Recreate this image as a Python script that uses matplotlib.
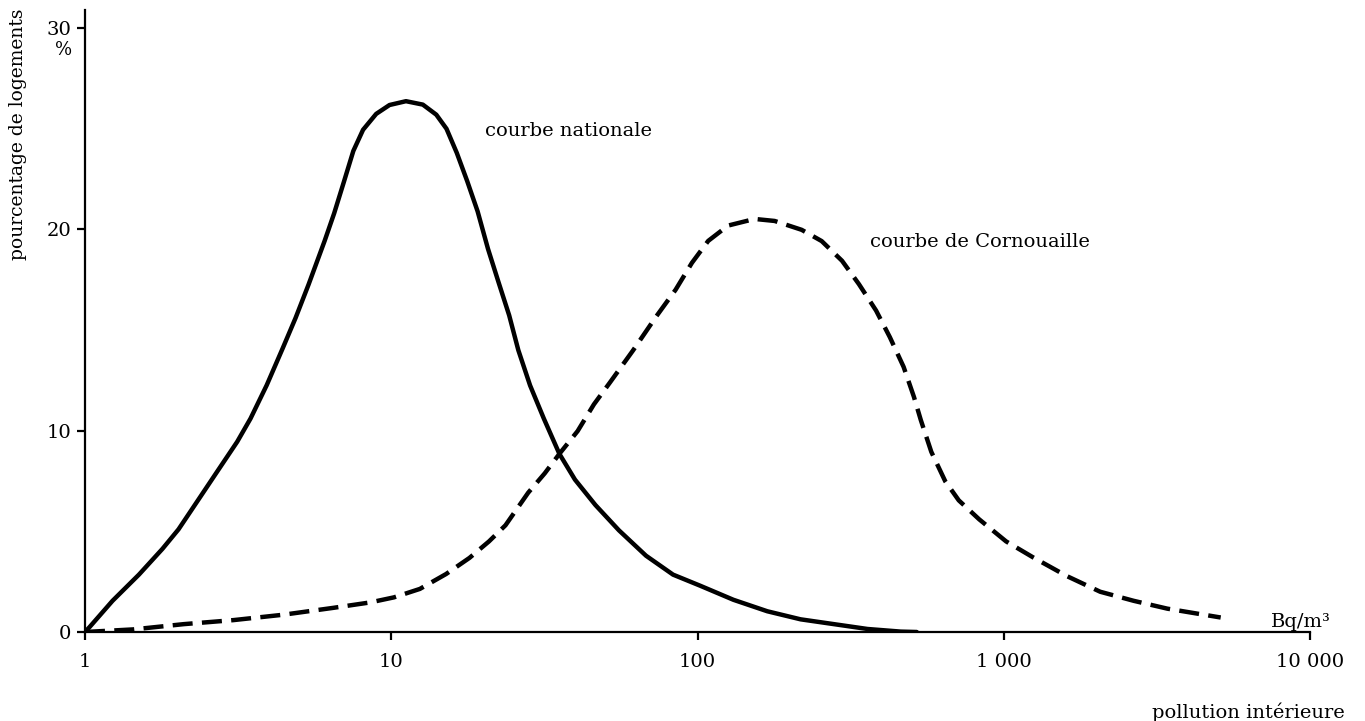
import matplotlib.pyplot as plt

plt.rcParams['font.family'] = ['DejaVu Serif']

# courbe nationale (Bq/m3, % de logements)
nat_x = [1, 1.037, 1.23, 1.5, 1.79, 2.02, 2.34, 2.71, 3.14, 3.47, 3.92, 4.42, 4.87, 5.37,
         6.06, 6.51, 7.0, 7.52, 8.09, 8.93, 9.87, 11.17, 12.68, 14.03, 15.15, 16.37,
         17.7, 19.14, 20.7, 22.4, 24.27, 26.0, 28.4, 31.5, 35.4, 39.8, 46.4, 55.4,
         67.9, 83.2, 102, 131, 169, 217, 279, 359, 461, 520]
nat_y = [0, 0.26, 1.55, 2.85, 4.13, 5.1, 6.55, 8.0, 9.45, 10.6, 12.26, 14.09, 15.6, 17.26,
         19.43, 20.8, 22.35, 23.9, 24.95, 25.74, 26.18, 26.37, 26.2, 25.7, 25.0, 23.8,
         22.4, 20.9, 19.03, 17.38, 15.73, 14.0, 12.25, 10.6, 8.85, 7.57, 6.31, 5.05,
         3.79, 2.85, 2.3, 1.6, 1.03, 0.63, 0.39, 0.15, 0.02, 0]

# courbe de Cornouaille
cor_x = [1, 1.44, 2.1, 3.05, 4.45, 6.47, 8.54, 10.2, 12.4, 15.1, 18.0, 20.85, 23.6, 28.0,
         31.7, 35.4, 40.6, 45.9, 51.8, 61.6, 73.2, 84.8, 95.9, 108.4, 125.8, 153.7,
         178.6, 218.8, 254.4, 296.5, 336.6, 382.9, 424.6, 471, 509, 536, 580, 644,
         713, 831, 1018, 1246, 1606, 2065, 2655, 3420, 5110]
cor_y = [0, 0.13, 0.39, 0.59, 0.86, 1.2, 1.47, 1.72, 2.14, 2.88, 3.68, 4.5, 5.3, 6.92,
         7.88, 8.85, 9.98, 11.31, 12.4, 13.99, 15.66, 17.0, 18.34, 19.43, 20.19, 20.52,
         20.42, 19.98, 19.42, 18.44, 17.28, 15.97, 14.65, 13.17, 11.68, 10.53, 8.95,
         7.49, 6.54, 5.6, 4.5, 3.71, 2.78, 2.0, 1.55, 1.16, 0.72]

x_ticks = [1, 10, 100, 1000, 10000]
x_labels = ['1', '10', '100', '1 000', '10 000']
y_ticks = [0, 10, 20, 30]

fig = plt.figure(figsize=(13.65, 7.21), dpi=100)
ax = fig.add_axes([85 / 1365, 1 - 632 / 721, 1225 / 1365, 622 / 721])

ax.plot(nat_x, nat_y, color='black', linewidth=3.2, solid_capstyle='round',
        solid_joinstyle='round')
ax.plot(cor_x, cor_y, color='black', linewidth=3.2, linestyle=(0, (4.5, 2.1)))

ax.set_xscale('log')
ax.set_xlim(1, 10000)
ax.set_ylim(0, 30.9)
ax.set_xticks(x_ticks)
ax.set_xticklabels(x_labels)
ax.minorticks_off()
ax.set_yticks(y_ticks)

for side in ['top', 'right']:
    ax.spines[side].set_visible(False)
for side in ['left', 'bottom']:
    ax.spines[side].set_linewidth(1.6)

ax.tick_params(axis='both', direction='out', length=6, width=1.6, labelsize=14)
ax.tick_params(axis='x', pad=9)
ax.tick_params(axis='y', pad=4)

ax.text(20.3, 24.9, 'courbe nationale', fontsize=14, ha='left', va='center')
ax.text(367, 19.35, 'courbe de Cornouaille', fontsize=14, ha='left', va='center')
ax.text(7460, 0.5, 'Bq/m³', fontsize=14, ha='left', va='center')

fig.text(64 / 1365, 1 - 50 / 721, '%', fontsize=13, ha='center', va='center')
fig.text(18 / 1365, 1 - 8 / 721, 'pourcentage de logements', fontsize=13.5,
         rotation=90, ha='center', va='top')
fig.text(1345 / 1365, 1 - 712 / 721, 'pollution intérieure', fontsize=14,
         ha='right', va='center')

fig.savefig('out.png', dpi=100)
